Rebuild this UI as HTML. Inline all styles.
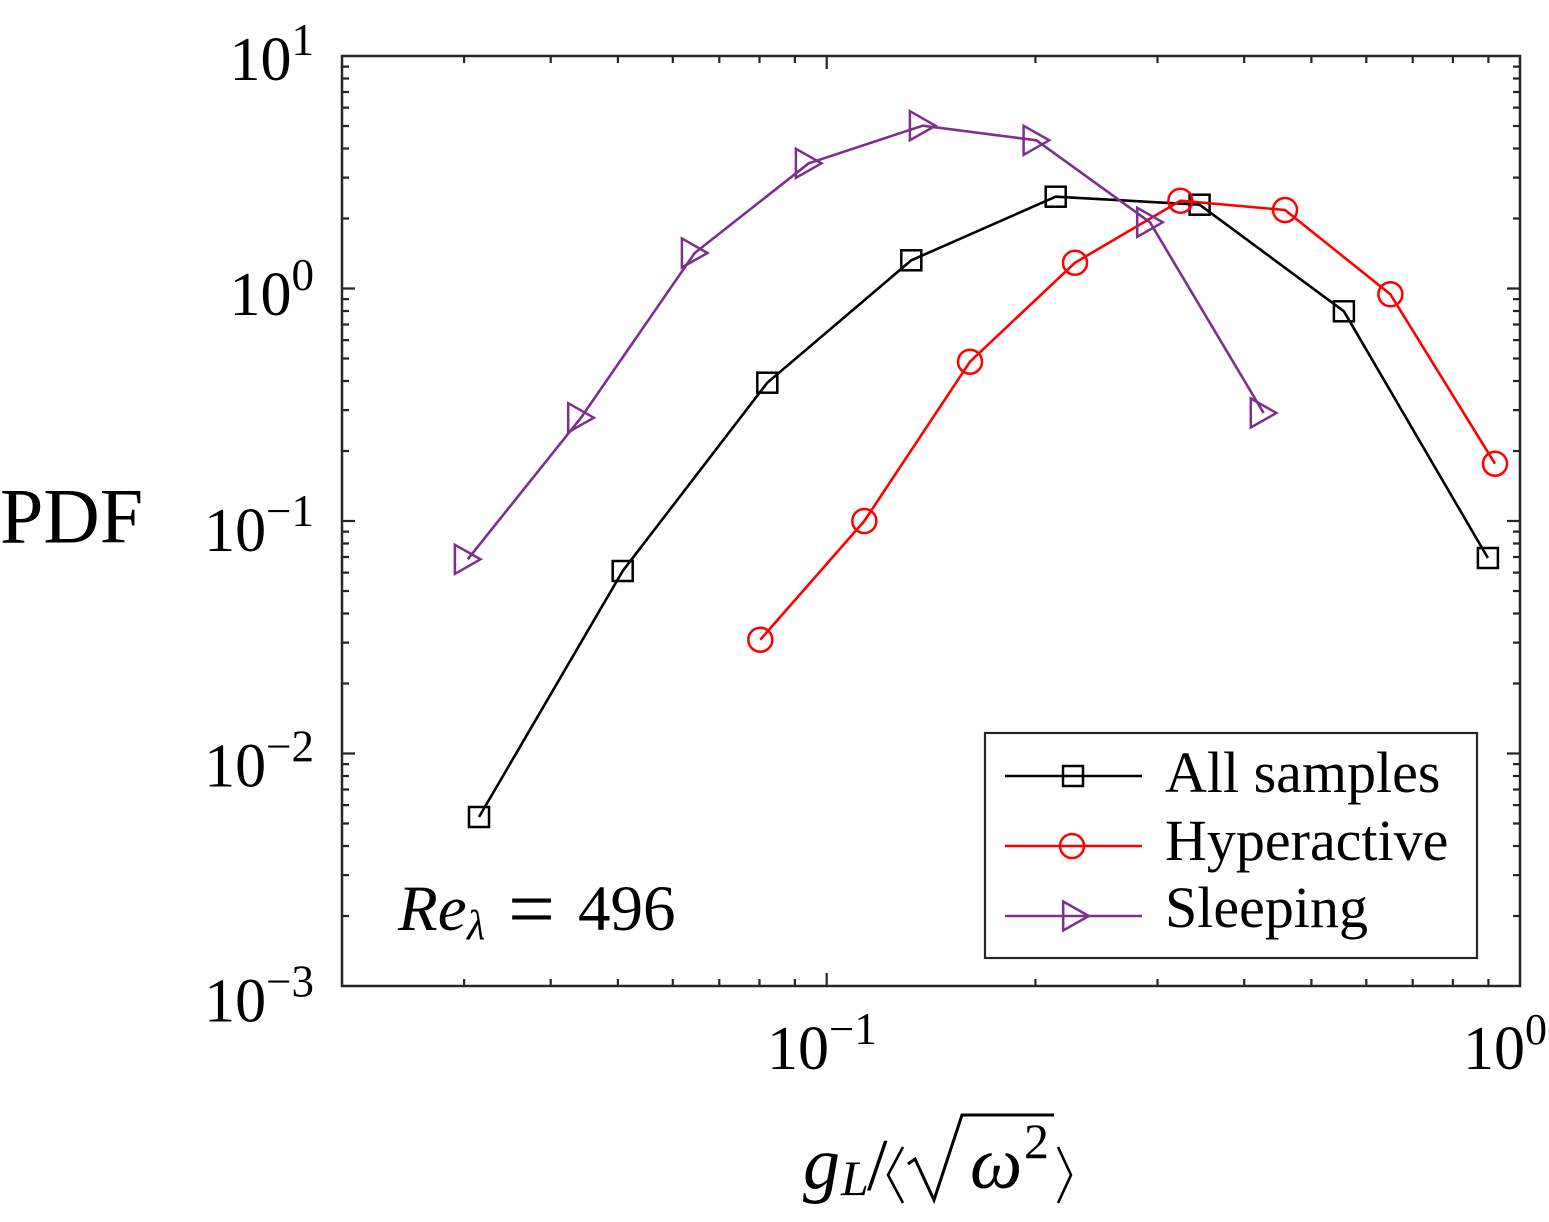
<!DOCTYPE html>
<html>
<head>
<meta charset="utf-8">
<style>
  html, body { margin: 0; padding: 0; background: #ffffff; }
  svg { display: block; }
  text { font-family: "Liberation Serif", "DejaVu Serif", serif; fill: #000; }
</style>
</head>
<body>
<svg width="1549" height="1222" viewBox="0 0 1549 1222" xmlns="http://www.w3.org/2000/svg">
  <defs>
    <polygon id="tri" points="-12.8,-14.5 12.8,0 -12.8,14.5" fill="none" stroke="#7E2F8E" stroke-width="2.5" stroke-linejoin="miter"/>
    <rect id="sq" x="-10" y="-10" width="20" height="20" fill="none" stroke="#000" stroke-width="2.5"/>
    <circle id="circ" cx="0" cy="0" r="12" fill="none" stroke="#FF0000" stroke-width="2.5"/>
  </defs>

  <rect x="0" y="0" width="1549" height="1222" fill="#fff"/>

  <!-- Ticks -->
  <g stroke="#262626" stroke-width="2.2" fill="none">
    <path d="M342 288.5 H355 M342 521 H355 M342 753.5 H355
             M1520 288.5 H1507 M1520 521 H1507 M1520 753.5 H1507"/>
    <path d="M342 66.6H349 M342 78.5H349 M342 92.0H349 M342 107.6H349 M342 126.0H349 M342 148.5H349 M342 177.6H349 M342 218.5H349
             M342 299.1H349 M342 311.0H349 M342 324.5H349 M342 340.1H349 M342 358.5H349 M342 381.0H349 M342 410.1H349 M342 451.0H349
             M342 531.6H349 M342 543.5H349 M342 557.0H349 M342 572.6H349 M342 591.0H349 M342 613.5H349 M342 642.6H349 M342 683.5H349
             M342 764.1H349 M342 776.0H349 M342 789.5H349 M342 805.1H349 M342 823.5H349 M342 846.0H349 M342 875.1H349 M342 916.0H349"/>
    <path d="M1520 66.6H1513 M1520 78.5H1513 M1520 92.0H1513 M1520 107.6H1513 M1520 126.0H1513 M1520 148.5H1513 M1520 177.6H1513 M1520 218.5H1513
             M1520 299.1H1513 M1520 311.0H1513 M1520 324.5H1513 M1520 340.1H1513 M1520 358.5H1513 M1520 381.0H1513 M1520 410.1H1513 M1520 451.0H1513
             M1520 531.6H1513 M1520 543.5H1513 M1520 557.0H1513 M1520 572.6H1513 M1520 591.0H1513 M1520 613.5H1513 M1520 642.6H1513 M1520 683.5H1513
             M1520 764.1H1513 M1520 776.0H1513 M1520 789.5H1513 M1520 805.1H1513 M1520 823.5H1513 M1520 846.0H1513 M1520 875.1H1513 M1520 916.0H1513"/>
    <path d="M826.7 986 V973 M826.7 56 V69"/>
    <path d="M464.1 986V979 M550.7 986V979 M617.9 986V979 M672.8 986V979 M719.3 986V979 M759.5 986V979 M794.9 986V979
             M1035.4 986V979 M1157.5 986V979 M1244.2 986V979 M1311.4 986V979 M1366.3 986V979 M1412.7 986V979 M1452.9 986V979 M1488.4 986V979"/>
    <path d="M464.1 56V63 M550.7 56V63 M617.9 56V63 M672.8 56V63 M719.3 56V63 M759.5 56V63 M794.9 56V63
             M1035.4 56V63 M1157.5 56V63 M1244.2 56V63 M1311.4 56V63 M1366.3 56V63 M1412.7 56V63 M1452.9 56V63 M1488.4 56V63"/>
  </g>

  <!-- Series: All samples (black) -->
  <polyline points="479,817 622.7,571 767.3,382.7 911.3,260.3 1055.7,196.7 1199.6,204.7 1343.9,311.3 1487.9,558"
            fill="none" stroke="#000" stroke-width="2.6" stroke-linejoin="round"/>
  <g>
    <use href="#sq" x="479" y="817"/>
    <use href="#sq" x="622.7" y="571"/>
    <use href="#sq" x="767.3" y="382.7"/>
    <use href="#sq" x="911.3" y="260.3"/>
    <use href="#sq" x="1055.7" y="196.7"/>
    <use href="#sq" x="1199.6" y="204.7"/>
    <use href="#sq" x="1343.9" y="311.3"/>
    <use href="#sq" x="1487.9" y="558"/>
  </g>

  <!-- Series: Hyperactive (red) -->
  <polyline points="760.3,639.7 864.3,521 970,361.7 1075,262.7 1180.4,200.7 1285,210 1390.4,294.3 1495,463.7"
            fill="none" stroke="#FF0000" stroke-width="2.6" stroke-linejoin="round"/>
  <g>
    <use href="#circ" x="760.3" y="639.7"/>
    <use href="#circ" x="864.3" y="521"/>
    <use href="#circ" x="970" y="361.7"/>
    <use href="#circ" x="1075" y="262.7"/>
    <use href="#circ" x="1180.4" y="200.7"/>
    <use href="#circ" x="1285" y="210"/>
    <use href="#circ" x="1390.4" y="294.3"/>
    <use href="#circ" x="1495" y="463.7"/>
  </g>

  <!-- Series: Sleeping (purple) -->
  <polyline points="467.7,559.3 581,417.7 694.7,253 808.7,163.3 922.7,125.7 1036.4,140.3 1150,222.3 1263.6,413"
            fill="none" stroke="#7E2F8E" stroke-width="2.6" stroke-linejoin="round"/>
  <g>
    <use href="#tri" x="467.7" y="559.3"/>
    <use href="#tri" x="581" y="417.7"/>
    <use href="#tri" x="694.7" y="253"/>
    <use href="#tri" x="808.7" y="163.3"/>
    <use href="#tri" x="922.7" y="125.7"/>
    <use href="#tri" x="1036.4" y="140.3"/>
    <use href="#tri" x="1150" y="222.3"/>
    <use href="#tri" x="1263.6" y="413"/>
  </g>

  <!-- Axes box -->
  <rect x="342" y="56" width="1178" height="930" fill="none" stroke="#262626" stroke-width="2.5"/>

  <!-- Legend -->
  <rect x="985" y="733" width="492" height="225" fill="#fff" stroke="#262626" stroke-width="2.2"/>
  <line x1="1005" y1="776" x2="1142" y2="776" stroke="#000" stroke-width="2.6"/>
  <use href="#sq" x="1073" y="776"/>
  <line x1="1005" y1="846" x2="1142" y2="846" stroke="#FF0000" stroke-width="2.6"/>
  <use href="#circ" x="1072" y="846"/>
  <line x1="1005" y1="916" x2="1142" y2="916" stroke="#7E2F8E" stroke-width="2.6"/>
  <use href="#tri" x="1076" y="916"/>
  <text x="1165" y="792" font-size="58">All samples</text>
  <text x="1165" y="860" font-size="58">Hyperactive</text>
  <text x="1165" y="927" font-size="58">Sleeping</text>

  <!-- Annotation Re_lambda = 496 -->
  <text x="398" y="930" font-size="65" font-style="italic">Re</text>
  <text x="467" y="939" font-size="42" font-style="italic">λ</text>
  <text x="508" y="937" font-size="84" textLength="47" lengthAdjust="spacingAndGlyphs">=</text>
  <text x="578" y="930" font-size="65">496</text>

  <!-- Y tick labels -->
  <text x="314" y="80" font-size="62" text-anchor="end">10<tspan font-size="45" dy="-25">1</tspan></text>
  <text x="314" y="315" font-size="62" text-anchor="end">10<tspan font-size="45" dy="-25">0</tspan></text>
  <text x="314" y="551" font-size="62" text-anchor="end">10<tspan font-size="45" dy="-25">−1</tspan></text>
  <text x="314" y="786.5" font-size="62" text-anchor="end">10<tspan font-size="45" dy="-25">−2</tspan></text>
  <text x="314" y="1021.5" font-size="62" text-anchor="end">10<tspan font-size="45" dy="-25">−3</tspan></text>

  <!-- X tick labels -->
  <text x="767" y="1069" font-size="62">10<tspan font-size="45" dy="-25">−1</tspan></text>
  <text x="1463" y="1069" font-size="62">10<tspan font-size="44" dy="-25">0</tspan></text>

  <!-- Y axis label -->
  <text x="0" y="542.5" font-size="78">PDF</text>

  <!-- X axis label: g_L / <sqrt(omega^2)> -->
  <text x="803" y="1188" font-size="74" font-style="italic">g</text>
  <text x="841" y="1195" font-size="50" font-style="italic">L</text>
  <text x="867" y="1190" font-size="74">/</text>
  <polyline points="903,1147 888,1175 903,1203" fill="none" stroke="#000" stroke-width="2.6"/>
  <polyline points="908,1164 915,1159 934,1200 962,1115 1054,1115" fill="none" stroke="#000" stroke-width="3" stroke-linejoin="miter"/>
  <text x="970" y="1188" font-size="74" font-style="italic">ω</text>
  <text x="1024" y="1158" font-size="50">2</text>
  <polyline points="1058,1147 1071,1175 1058,1203" fill="none" stroke="#000" stroke-width="2.6"/>
</svg>
</body>
</html>
